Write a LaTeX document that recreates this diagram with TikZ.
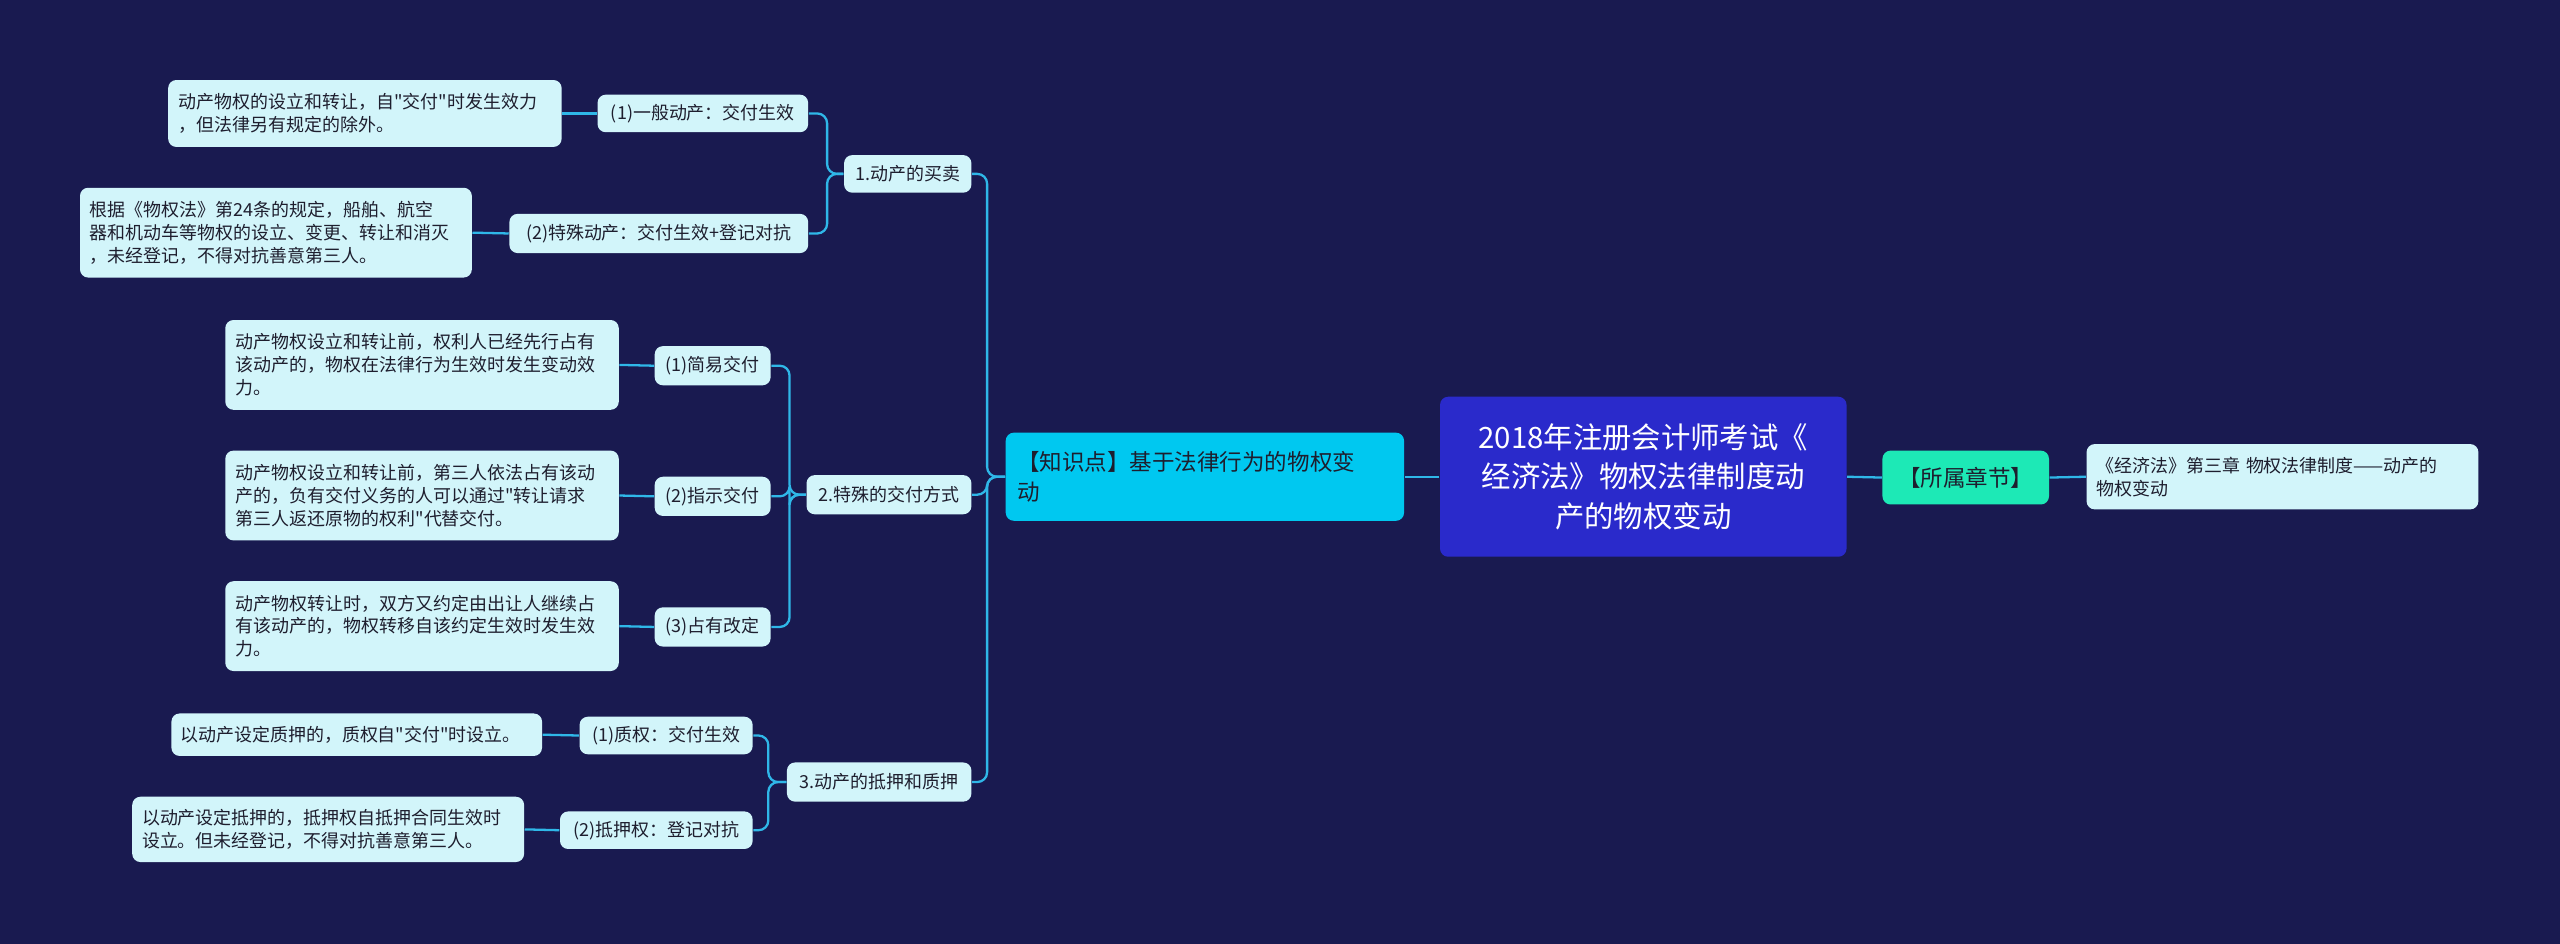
\documentclass[tikz,border=0pt]{standalone}
\usepackage{fontspec}
\setmainfont{Noto Sans CJK SC}[Ligatures=TeXOff]
\definecolor{bg}{HTML}{191A50}
\definecolor{rootc}{HTML}{2A2ACB}
\definecolor{mainc}{HTML}{00C8F0}
\definecolor{greenc}{HTML}{1DE9B6}
\definecolor{leafc}{HTML}{D2F5FA}
\definecolor{linec}{HTML}{2FB7E8}
\definecolor{txt}{HTML}{1E1E2E}
\tikzset{
 box/.style={rounded corners=2.5pt,inner sep=0pt,font=\fontsize{5.5pt}{7pt}\selectfont,text=txt,align=left},
 leaf/.style={box,fill=leafc},
 conn/.style={draw=linec,line width=0.7pt,rounded corners=3pt},
}
\newcommand{\bx}[6]{% name, x1,y1,x2,y2, style
 \node[#6,minimum width={(#4-#2)*0.5pt},minimum height={(#5-#3)*0.5pt}] (#1) at ({(#2+#4)/2},{(#3+#5)/2})}
\begin{document}
\begin{tikzpicture}[x=0.5pt,y=-0.5pt]
\fill[bg] (0,0) rectangle (1568,578);
\useasboundingbox (0,0) rectangle (1568,578);
\bx{root}{882}{243}{1131}{341}{box,fill=rootc,text=white,align=center,font=\fontsize{9pt}{12pt}\selectfont}{2018年注册会计师考试《\\经济法》物权法律制度动\\产的物权变动};
\bx{main}{616}{265}{860}{319}{box,fill=mainc,font=\fontsize{6.9pt}{9pt}\selectfont,text width=115pt}{【知识点】基于法律行为的物权变\\动};
\bx{sec}{1153}{276}{1255}{309}{box,fill=greenc,align=center,font=\fontsize{6.9pt}{9pt}\selectfont}{【所属章节】};
\bx{secl}{1278}{272}{1518}{312}{leaf,text width=114pt}{《经济法》第三章 物权法律制度——动产的\\物权变动};
\bx{a}{517}{95}{595}{118}{leaf,align=center}{1.动产的买卖};
\bx{b}{494}{291}{595}{315}{leaf,align=center}{2.特殊的交付方式};
\bx{c}{482}{467}{595}{491}{leaf,align=center}{3.动产的抵押和质押};
\bx{a1}{366}{58}{495}{81}{leaf,align=center}{(1)一般动产：交付生效};
\bx{a2}{312}{131}{495}{155}{leaf,align=center}{(2)特殊动产：交付生效+登记对抗};
\bx{b1}{401}{212}{472}{236}{leaf,align=center}{(1)简易交付};
\bx{b2}{401}{292}{472}{316}{leaf,align=center}{(2)指示交付};
\bx{b3}{401}{372}{472}{396}{leaf,align=center}{(3)占有改定};
\bx{c1}{355}{439}{461}{462}{leaf,align=center}{(1)质权：交付生效};
\bx{c2}{343}{497}{461}{520}{leaf,align=center}{(2)抵押权：登记对抗};
\bx{la1}{103}{49}{344}{90}{leaf,text width=114pt}{动产物权的设立和转让，自"交付"时发生效力\\，但法律另有规定的除外。};
\bx{la2}{49}{115}{289}{170}{leaf,text width=114pt}{根据《物权法》第24条的规定，船舶、航空\\器和机动车等物权的设立、变更、转让和消灭\\，未经登记，不得对抗善意第三人。};
\bx{lb1}{138}{196}{379}{251}{leaf,text width=114pt}{动产物权设立和转让前，权利人已经先行占有\\该动产的，物权在法律行为生效时发生变动效\\力。};
\bx{lb2}{138}{276}{379}{331}{leaf,text width=114pt}{动产物权设立和转让前，第三人依法占有该动\\产的，负有交付义务的人可以通过"转让请求\\第三人返还原物的权利"代替交付。};
\bx{lb3}{138}{356}{379}{411}{leaf,text width=114pt}{动产物权转让时，双方又约定由出让人继续占\\有该动产的，物权转移自该约定生效时发生效\\力。};
\bx{lc1}{105}{437}{332}{463}{leaf,text width=108pt}{以动产设定质押的，质权自"交付"时设立。};
\bx{lc2}{81}{488}{321}{528}{leaf,text width=114pt}{以动产设定抵押的，抵押权自抵押合同生效时\\设立。但未经登记，不得对抗善意第三人。};
% connectors
\draw[conn] (root.east) -- (sec.west);
\draw[conn] (sec.east) -- (secl.west);
\draw[conn] (root.west) -- (main.east);
\foreach \ch in {a,b,c} \draw[conn] (main.west) -- ++(-11,0) |- (\ch.east);
\foreach \ch in {a1,a2} \draw[conn] (a.west) -- ++(-10,0) |- (\ch.east);
\foreach \ch in {b1,b2,b3} \draw[conn] (b.west) -- ++(-10,0) |- (\ch.east);
\foreach \ch in {c1,c2} \draw[conn] (c.west) -- ++(-11,0) |- (\ch.east);
\draw[conn] (a1.west) -- (la1.east);
\draw[conn] (a2.west) -- (la2.east);
\draw[conn] (b1.west) -- (lb1.east);
\draw[conn] (b2.west) -- (lb2.east);
\draw[conn] (b3.west) -- (lb3.east);
\draw[conn] (c1.west) -- (lc1.east);
\draw[conn] (c2.west) -- (lc2.east);
\end{tikzpicture}
\end{document}
